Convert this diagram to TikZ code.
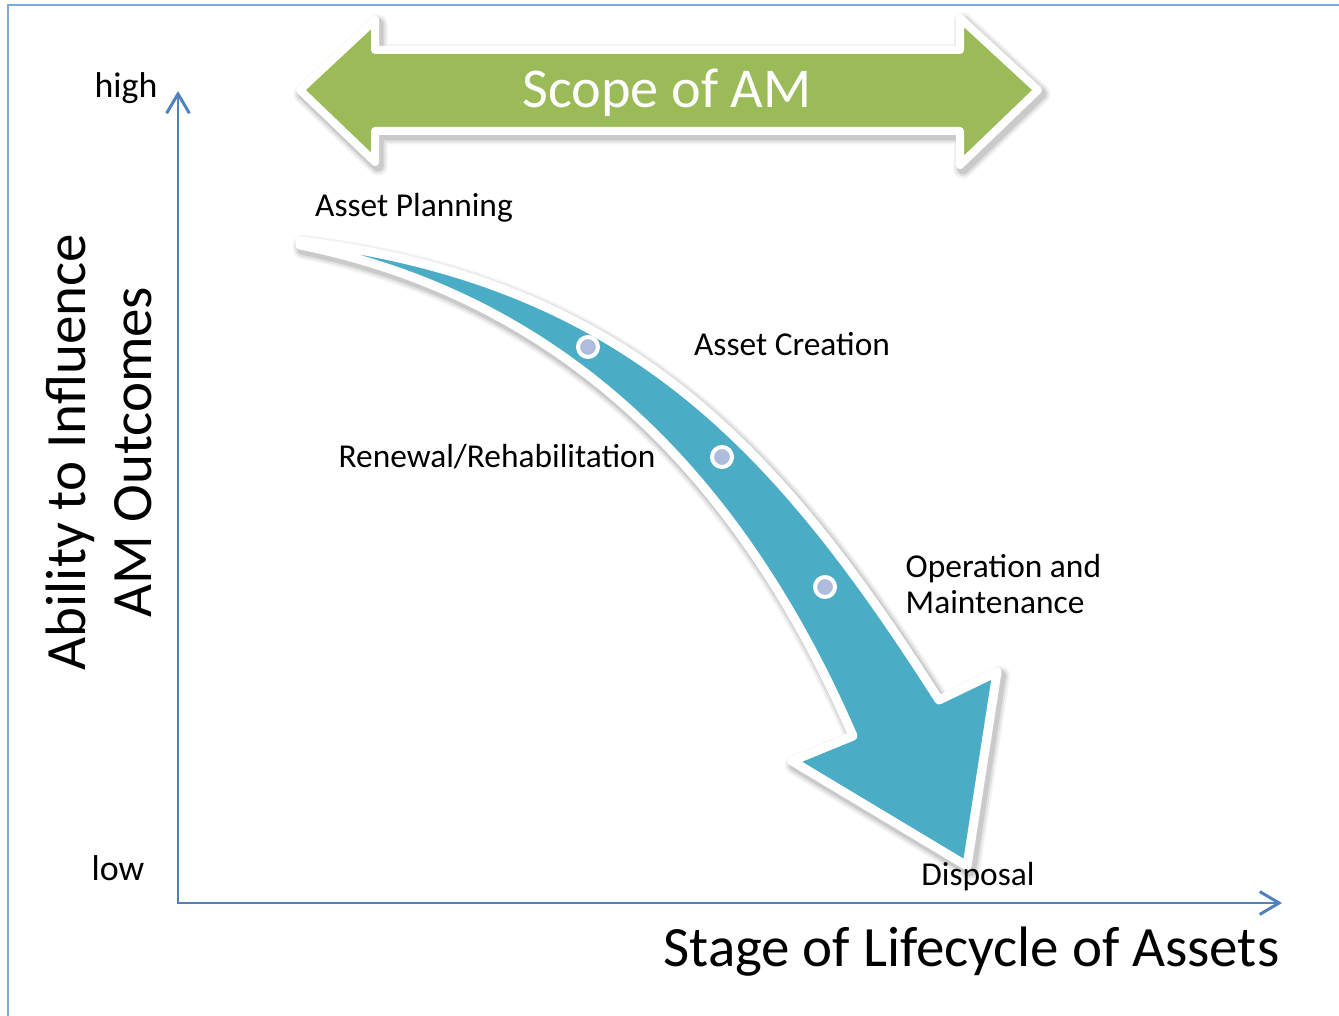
\documentclass[tikz,border=0pt]{standalone}
\usepackage{fontspec}
\setmainfont{Carlito}
\usetikzlibrary{arrows.meta}

\definecolor{amgreen}{HTML}{9BBB59}
\definecolor{amblue}{HTML}{4BACC6}
\definecolor{axisblue}{HTML}{4F81BD}
\definecolor{frameblue}{HTML}{7FA8DC}
\definecolor{dotfill}{HTML}{AFBCDB}

% outlines of the two block arrows
\def\scopearrow{(300,90) -- (375,20) -- (375,50) -- (960,50) -- (960,18) -- (1038,90) -- (960,165) -- (960,131) -- (375,131) -- (375,162) -- cycle}
\def\lifearrow{(300,241) .. controls (630,281) and (780,451) .. (939,700) -- (997,672) -- (967,866) -- (792,761) -- (853,736) .. controls (743,482) and (568,299) .. (300,245) -- cycle}

\begin{document}
\begin{tikzpicture}[x=0.01cm, y=-0.01cm,
    axis/.style={axisblue, line width=0.85pt, {Straight Barb[length=5.5pt,width=6.5pt]}-{Straight Barb[length=5.5pt,width=6.5pt]}},
    stage/.style={font=\fontsize{9.5}{10.3}\selectfont, inner sep=0pt},
    title/.style={font=\fontsize{16.2}{19}\selectfont, inner sep=0pt},
    dot/.style={circle, fill=dotfill, draw=white, line width=0.04cm, minimum size=0.2cm, inner sep=0pt}]

\useasboundingbox (0,0) rectangle (1339,1016);

% frame
\draw[frameblue, line width=0.6pt] (8,1016) -- (8,5) -- (1339,5);

% axes
\coordinate (ytop) at (178,91);
\coordinate (origin) at (178,903);
\coordinate (xend) at (1282,903);
\draw[axis] (ytop) -- (origin) -- (xend);

\node[font=\fontsize{10.2}{12}\selectfont, inner sep=0pt] (high) at (126,88) {high};
\node[font=\fontsize{10.2}{12}\selectfont, inner sep=0pt] (low) at (118,868) {low};
\node[title, rotate=90, align=center] (ability) at (99,452) {Ability to Influence\\AM Outcomes};
\node[title, anchor=base east] (lifecycle) at (1280,967) {Stage of Lifecycle of Assets};

% scope arrow, soft shadow first
\foreach \w/\o in {0.19/0.05, 0.15/0.07, 0.11/0.1}
  \draw[black, opacity=\o, line width=\w cm, line join=round, shift={(3,4)}] \scopearrow;
\path[fill=amgreen, draw=white, line width=0.08cm, line join=round] \scopearrow;
\node[font=\fontsize{16}{19}\selectfont, text=white, inner sep=0pt, anchor=base] (scope) at (667,108) {Scope of AM};

% lifecycle arrow
\foreach \w/\o in {0.2/0.05, 0.16/0.07, 0.12/0.1}
  \draw[black, opacity=\o, line width=\w cm, line join=round, shift={(3,4)}] \lifearrow;
\path[fill=amblue, draw=white, line width=0.09cm, line join=round] \lifearrow;

\node[dot] (d1) at (588,347) {};
\node[dot] (d2) at (722,457) {};
\node[dot] (d3) at (825,587) {};

% stages
\node[stage, anchor=base] (planning) at (414,217) {Asset Planning};
\node[stage, anchor=base] (creation) at (792,356) {Asset Creation};
\node[stage, anchor=base] (renewal) at (497,468) {Renewal/Rehabilitation};
\node[stage, anchor=base west, align=left] (operation) at (905,614) {Operation and\\Maintenance};
\node[stage, anchor=base] (disposal) at (978,886) {Disposal};
\end{tikzpicture}
\end{document}
